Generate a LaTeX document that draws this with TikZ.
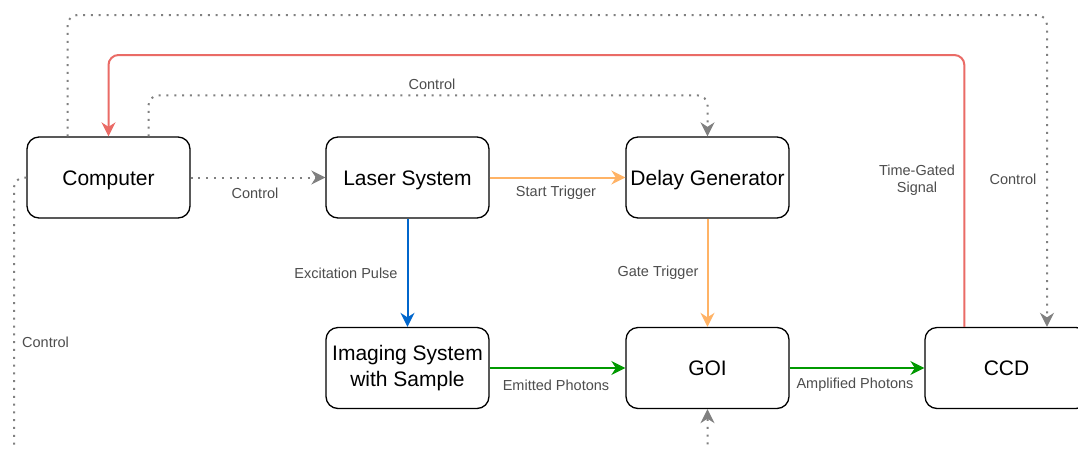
\documentclass[tikz,border=0pt]{standalone}
\usepackage{fontspec}
\setmainfont{Liberation Sans}
\usetikzlibrary{arrows.meta}
\definecolor{lblgray}{RGB}{77,77,77}
\definecolor{ctrlgray}{RGB}{128,128,128}
\definecolor{trigorange}{RGB}{255,179,102}
\definecolor{pulseblue}{RGB}{0,102,204}
\definecolor{photgreen}{RGB}{0,153,0}
\definecolor{sigred}{RGB}{234,107,102}
\tikzset{
  box/.style={draw=black, line width=1.3pt, rounded corners=12pt, minimum width=163pt, minimum height=81pt, align=center, font=\fontsize{21}{26}\selectfont, inner sep=1pt},
  onebox/.style={box, text height=17pt, text depth=2pt},
  lbl/.style={text=lblgray, font=\fontsize{14.5}{17}\selectfont, align=center, inner sep=0pt},
  conn/.style={line width=2pt, -{Stealth[length=14pt,width=14pt,inset=4.5pt]}, rounded corners=10pt},
  ctrl/.style={conn, ctrlgray, dash pattern=on 2pt off 5.8pt},
}
\begin{document}
\begin{tikzpicture}[x=1pt,y=-1pt]
\useasboundingbox (0,0) rectangle (1078,448);
\clip (0,0) rectangle (1078,448);
\fill[white] (0,0) rectangle (1078,448);

\node[onebox] (comp) at (108.5,177.5) {Computer};
\node[onebox] (laser) at (407.5,177.5) {Laser System};
\node[onebox] (delay) at (707.5,177.5) {Delay Generator};
\node[box] (img) at (407.5,368) {Imaging System\\with Sample};
\node[onebox] (goi) at (707.5,368) {GOI};
\node[onebox] (ccd) at (1006.5,368) {CCD};

% controls
\draw[ctrl] (comp.east) -- (laser.west);
\node[lbl] (lc1) at (255,193) {Control};
\draw[ctrl] ([xshift=40pt]comp.north) |- ([yshift=41pt]delay.north) -- (delay.north);
\node[lbl] (lc2) at (432,84) {Control};
\draw[ctrl] ([xshift=-41pt]comp.north) |- (1047,15) -- ([xshift=40.5pt]ccd.north);
\node[lbl] (lc3) at (1013,179) {Control};
\draw[ctrl] (comp.west) -| (14,456) -| (goi.south);
\node[lbl, anchor=west] (lc4) at (22,342) {Control};

% triggers
\draw[conn, trigorange] (laser.east) -- (delay.west);
\node[lbl] (lst) at (556,193) {Start Trigger};
\draw[conn, trigorange] (delay.south) -- (goi.north);
\node[lbl] (lgt) at (658,273) {Gate Trigger};

% pulse
\draw[conn, pulseblue] (laser.south) -- (img.north);
\node[lbl] (lep) at (346,273) {Excitation Pulse};

% photons
\draw[conn, photgreen] (img.east) -- (goi.west);
\node[lbl] (lem) at (556,385) {Emitted Photons};
\draw[conn, photgreen] (goi.east) -- (ccd.west);
\node[lbl] (lam) at (855,385) {Amplified Photons};

% signal
\draw[conn, sigred] ([xshift=40pt]ccd.north west) |- (108.5,55) -- (comp.north);
\node[lbl] (lsig) at (917,180) {Time-Gated\\Signal};
\end{tikzpicture}
\end{document}
